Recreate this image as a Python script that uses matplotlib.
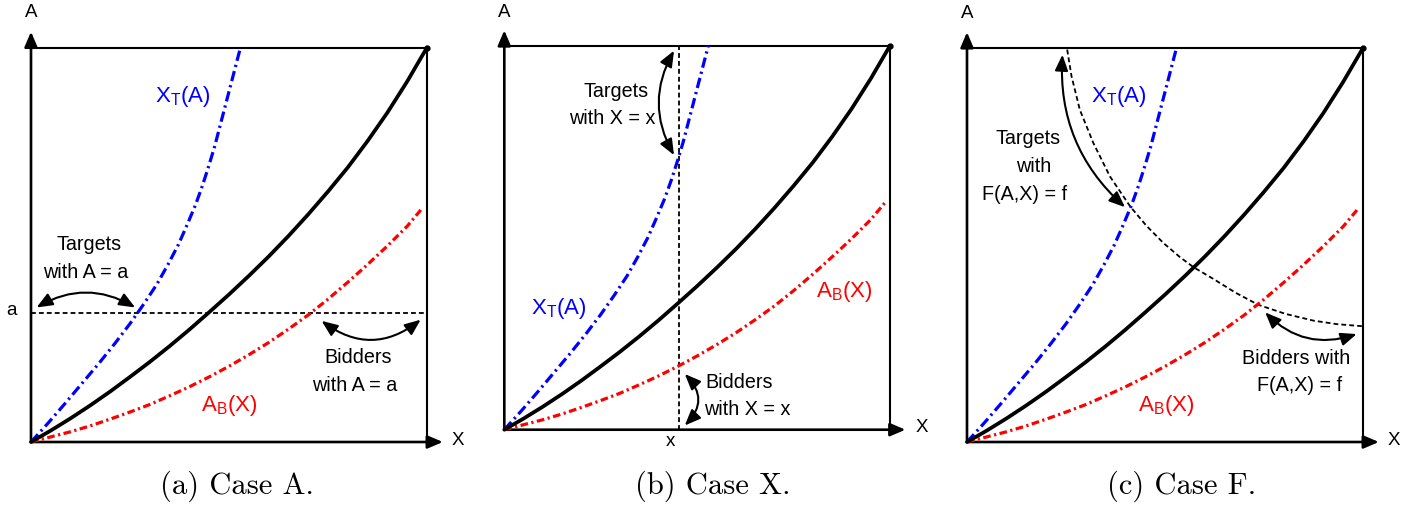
import matplotlib
matplotlib.use('Agg')
import matplotlib.pyplot as plt

plt.rcParams['font.family'] = ['Liberation Sans', 'DejaVu Sans']
plt.rcParams['mathtext.fontset'] = 'custom'
plt.rcParams['mathtext.rm'] = 'Liberation Sans'
plt.rcParams['mathtext.it'] = 'Liberation Sans'
plt.rcParams['lines.scale_dashes'] = False

# ---------------- data (normalized: box spans 0..1 on both axes) ----------------
# equilibrium curve (black)
black_x = [0.0, 0.05, 0.1, 0.15, 0.2, 0.25, 0.3, 0.35, 0.4, 0.45, 0.5,
           0.55, 0.6, 0.65, 0.7, 0.75, 0.8, 0.85, 0.9, 0.95, 1.0]
black_y = [0.0, 0.029, 0.060, 0.093, 0.128, 0.165, 0.203, 0.243, 0.285, 0.329, 0.374,
           0.421, 0.470, 0.522, 0.577, 0.635, 0.696, 0.763, 0.835, 0.914, 1.0]
# X_T(A) (blue), given as x for each A
blue_A = [0.0, 0.05, 0.1, 0.15, 0.2, 0.25, 0.3, 0.35, 0.4, 0.45, 0.5,
          0.55, 0.6, 0.65, 0.7, 0.75, 0.8, 0.85, 0.9, 0.95, 1.0]
blue_X = [0.0, 0.045, 0.088, 0.130, 0.172, 0.212, 0.250, 0.285, 0.318, 0.346, 0.372,
          0.394, 0.415, 0.433, 0.449, 0.464, 0.477, 0.490, 0.503, 0.516, 0.529]
# A_B(X) (red)
red_X = [0.0, 0.05, 0.1, 0.15, 0.2, 0.25, 0.3, 0.35, 0.4, 0.45, 0.5,
         0.55, 0.6, 0.65, 0.7, 0.75, 0.8, 0.85, 0.9, 0.95, 0.99]
red_A = [0.0, 0.013, 0.026, 0.041, 0.058, 0.076, 0.095, 0.117, 0.140, 0.165, 0.192,
         0.221, 0.252, 0.286, 0.322, 0.362, 0.405, 0.450, 0.497, 0.547, 0.595]
# iso-F curve F(A,X) = f (panel c)
f_X = [0.253, 0.264, 0.285, 0.319, 0.361, 0.412, 0.452, 0.496, 0.538, 0.573, 0.622,
       0.678, 0.736, 0.805, 0.875, 0.935, 0.997]
f_A = [0.996, 0.928, 0.843, 0.759, 0.674, 0.598, 0.550, 0.505, 0.469, 0.443, 0.414,
       0.379, 0.348, 0.325, 0.308, 0.299, 0.294]
# levels
level_a = 0.326
level_x = 0.453

captions = ['(a) Case A.', '(b) Case X.', '(c) Case F.']

# ---------------- layout ----------------
W, H = 1411, 506
fig = plt.figure(figsize=(W / 100, H / 100), dpi=100)

boxes = [(31, 427, 48.5, 443), (504.3, 890, 46.7, 430.7), (967, 1363, 49, 443)]
caption_pos = [(237, 486), (713, 486), (1182, 486)]

BLUE = '#0000ff'
RED = '#ff0000'
TXT = 14.2
CURV = 16
AXL = 13.5

def make_ax(L, R, T, B):
    ax = fig.add_axes([L / W, 1 - B / H, (R - L) / W, (B - T) / H])
    ax.set_xlim(0, 1)
    ax.set_ylim(0, 1)
    ax.axis('off')
    return ax

def darrow(ax, p1, p2, rad):
    ax.annotate('', xy=p2, xytext=p1,
                arrowprops=dict(arrowstyle='<|-|>,head_length=0.8,head_width=0.33',
                                mutation_scale=12, lw=1.5, color='k',
                                shrinkA=0, shrinkB=0,
                                connectionstyle='arc3,rad=%g' % rad),
                annotation_clip=False)

def base(ax):
    ax.plot([0, 1], [1, 1], color='k', lw=1.5, clip_on=False, solid_capstyle='projecting')
    ax.plot([1, 1], [0, 1], color='k', lw=1.5, clip_on=False, solid_capstyle='projecting')
    ax.annotate('', xy=(0, 1.04), xytext=(0, 0),
                arrowprops=dict(arrowstyle='-|>,head_length=0.7,head_width=0.3',
                                mutation_scale=13, lw=1.9, color='k', shrinkA=0, shrinkB=0),
                annotation_clip=False)
    ax.annotate('', xy=(1.04, 0), xytext=(0, 0),
                arrowprops=dict(arrowstyle='-|>,head_length=0.7,head_width=0.3',
                                mutation_scale=13, lw=1.9, color='k', shrinkA=0, shrinkB=0),
                annotation_clip=False)
    ax.plot(blue_X, blue_A, color=BLUE, lw=2.3, ls=(0, (7.5, 3, 1.6, 3)), clip_on=False, zorder=3)
    ax.plot(red_X, red_A, color=RED, lw=2.3, ls=(0, (5.5, 2.5, 1.6, 2.5)), clip_on=False, zorder=3)
    ax.plot(black_x, black_y, color='k', lw=2.7, clip_on=False, zorder=4, solid_capstyle='round')
    ax.plot([1], [1], 'o', color='k', ms=3.5, clip_on=False, zorder=5)
    ax.text(0.0, 1.09, 'A', fontsize=AXL, ha='center', va='center')

axes = [make_ax(*b) for b in boxes]
for ax in axes:
    base(ax)

# ---- panel (a) ----
ax = axes[0]
ax.plot([0, 1], [level_a, level_a], color='k', lw=1.3, ls=(0, (3.5, 2.2)), clip_on=False, zorder=2)
ax.text(1.079, 0.006, 'X', fontsize=AXL, ha='center', va='center')
ax.text(-0.049, 0.335, 'a', fontsize=AXL, ha='center', va='center')
ax.text(0.382, 0.865, r'$\mathregular{X_T(A)}$', fontsize=CURV, color=BLUE, ha='center', va='baseline')
ax.text(0.501, 0.082, r'$\mathregular{A_B(X)}$', fontsize=CURV, color=RED, ha='center', va='baseline')
ax.text(0.146, 0.489, 'Targets', fontsize=TXT, ha='center', va='baseline')
ax.text(0.138, 0.419, 'with A = a', fontsize=TXT, ha='center', va='baseline')
ax.text(0.827, 0.202, 'Bidders', fontsize=TXT, ha='center', va='baseline')
ax.text(0.818, 0.132, 'with A = a', fontsize=TXT, ha='center', va='baseline')
darrow(ax, (0.014, 0.341), (0.263, 0.341), -0.29)
darrow(ax, (0.734, 0.307), (0.984, 0.310), 0.38)

# ---- panel (b) ----
ax = axes[1]
ax.plot([level_x, level_x], [0, 1], color='k', lw=1.3, ls=(0, (3.5, 2.2)), clip_on=False, zorder=2)
ax.text(1.082, 0.009, 'X', fontsize=AXL, ha='center', va='center')
ax.text(0.432, -0.029, 'x', fontsize=AXL, ha='center', va='center')
ax.text(0.140, 0.304, r'$\mathregular{X_T(A)}$', fontsize=CURV, color=BLUE, ha='center', va='baseline')
ax.text(0.880, 0.347, r'$\mathregular{A_B(X)}$', fontsize=CURV, color=RED, ha='center', va='baseline')
ax.text(0.291, 0.870, 'Targets', fontsize=TXT, ha='center', va='baseline')
ax.text(0.281, 0.799, 'with X = x', fontsize=TXT, ha='center', va='baseline')
ax.text(0.609, 0.110, 'Bidders', fontsize=TXT, ha='center', va='baseline')
ax.text(0.631, 0.041, 'with X = x', fontsize=TXT, ha='center', va='baseline')
darrow(ax, (0.440, 0.987), (0.440, 0.715), 0.28)
darrow(ax, (0.468, 0.145), (0.468, 0.011), -0.49)

# ---- panel (c) ----
ax = axes[2]
ax.plot(f_X, f_A, color='k', lw=1.3, ls=(0, (3.5, 2.2)), clip_on=False, zorder=2)
ax.text(1.078, 0.006, 'X', fontsize=AXL, ha='center', va='center')
ax.text(0.383, 0.866, r'$\mathregular{X_T(A)}$', fontsize=CURV, color=BLUE, ha='center', va='baseline')
ax.text(0.502, 0.082, r'$\mathregular{A_B(X)}$', fontsize=CURV, color=RED, ha='center', va='baseline')
ax.text(0.153, 0.758, 'Targets', fontsize=TXT, ha='center', va='baseline')
ax.text(0.168, 0.687, 'with', fontsize=TXT, ha='center', va='baseline')
ax.text(0.146, 0.617, 'F(A,X) = f', fontsize=TXT, ha='center', va='baseline')
ax.text(0.830, 0.200, 'Bidders with', fontsize=TXT, ha='center', va='baseline')
ax.text(0.841, 0.132, 'F(A,X) = f', fontsize=TXT, ha='center', va='baseline')
darrow(ax, (0.241, 0.983), (0.399, 0.596), 0.24)
darrow(ax, (0.753, 0.329), (0.984, 0.274), 0.31)

for (cx, cy), cap in zip(caption_pos, captions):
    fig.text(cx / W, 1 - cy / H, cap, family=['cmr10', 'DejaVu Serif'], fontsize=22,
             ha='center', va='center')

fig.savefig('out.png', dpi=100)
